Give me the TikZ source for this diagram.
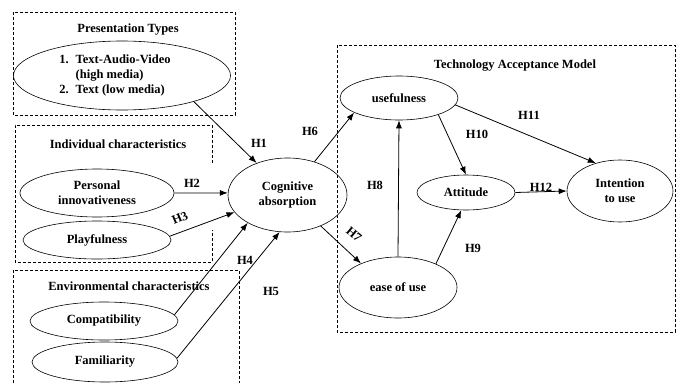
\documentclass[tikz,border=0pt]{standalone}
\usepackage{fontspec}
\setmainfont{Liberation Serif}
\usetikzlibrary{shapes.geometric,arrows.meta}
\begin{document}
\begin{tikzpicture}[x=1pt,y=-1pt,
  ell/.style={draw, ellipse, inner sep=0pt, line width=0.6pt, align=center,
    font=\fontsize{12.5}{15}\selectfont\bfseries},
  grp/.style={draw, dash pattern=on 3pt off 2pt, line width=0.7pt},
  ttl/.style={font=\fontsize{12.5}{14}\selectfont\bfseries, inner sep=0pt},
  hyp/.style={font=\fontsize{12.5}{14}\selectfont\bfseries, inner sep=0pt},
  arr/.style={-{Latex[length=8pt,width=6pt]}, line width=0.8pt}
]
\useasboundingbox (0,0) rectangle (680,383);
\fill[white] (0,0) rectangle (680,383);

% group boxes
\draw[grp] (13,12) rectangle (235,115);
\draw[grp] (212,163) -- (212,125) -- (15,125) -- (15,262) -- (212,262) -- (212,230);
\draw[grp] (13,383) -- (13,270) -- (239,270) -- (239,383);
\draw[grp] (337,45) rectangle (675,332);

% titles
\node[ttl] (tpres) at (128,30) {Presentation Types};
\node[ttl] (tind) at (118,144) {Individual characteristics};
\node[ttl] (tenv) at (129,286) {Environmental characteristics};
\node[ttl] (ttam) at (515,66) {Technology Acceptance Model};

% ellipses
\node[ell, minimum width=217, minimum height=69] (pres) at (122,75.5)
  {\begin{tabular}{@{}l@{\hspace{7pt}}l@{}}1.&Text-Audio-Video\\&(high media)\\2.&Text (low media)\end{tabular}\kern14pt};
\node[ell, minimum width=154, minimum height=48] (pers) at (97,193) {Personal\\innovativeness};
\node[ell, minimum width=148, minimum height=38] (play) at (97,240) {Playfulness};
\node[ell, minimum width=148, minimum height=38] (comp) at (104,321) {Compatibility};
\node[ell, minimum width=146, minimum height=40] (fam) at (105,362) {Familiarity};
\node[ell, minimum width=119, minimum height=74] (cog) at (287.5,195) {Cognitive\\absorption};
\node[ell, minimum width=118, minimum height=44] (use) at (399,98) {usefulness};
\node[ell, minimum width=98, minimum height=35] (att) at (466,192.5) {Attitude};
\node[ell, minimum width=106, minimum height=62] (int) at (620,191) {Intention\\to use};
\node[ell, minimum width=118, minimum height=61] (ease) at (398,287.5) {ease of use};

% connectors
\draw[arr] (pres.340) -- (cog.134);
\draw[arr] (pers.east) -- (cog.178);
\draw[arr] (play.3) -- (cog.198);
\draw[arr] (comp.5) -- (cog.215);
\draw[arr] (fam.3) -- (cog.258);
\draw[arr] (cog.51) -- (use.198);
\draw[arr] (cog.317) -- (ease.147);
\draw[arr] (ease.north) -- (use.south);
\draw[arr] (ease.32) -- (att.255);
\draw[arr] (use.337) -- (att.north);
\draw[arr] (use.353) -- (int.131);
\draw[arr] (att.east) -- (int.180);

% hypothesis labels
\node[hyp] (h1) at (259,143) {H1};
\node[hyp] (h2) at (192,183) {H2};
\node[hyp, rotate=23] (h3) at (180,218) {H3};
\node[hyp] (h4) at (245,260) {H4};
\node[hyp] (h5) at (271,291) {H5};
\node[hyp] (h6) at (310,131) {H6};
\node[hyp, rotate=-40] (h7) at (354,234) {H7};
\node[hyp] (h8) at (375,185) {H8};
\node[hyp] (h9) at (473,248) {H9};
\node[hyp] (h10) at (477,134) {H10};
\node[hyp] (h11) at (529,115) {H11};
\node[hyp] (h12) at (541,187) {H12};
\end{tikzpicture}
\end{document}
